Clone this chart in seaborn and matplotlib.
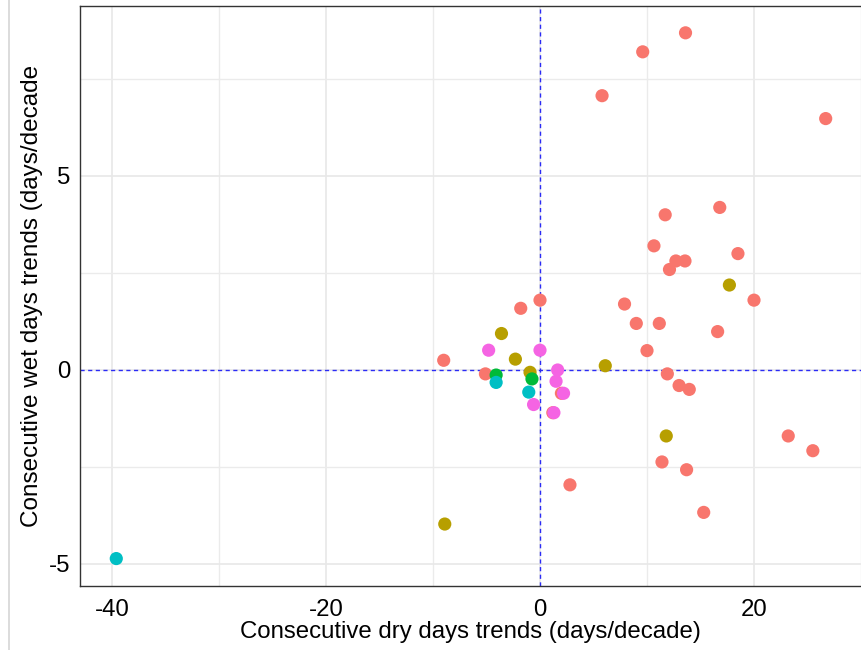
import numpy as np
import pandas as pd
import matplotlib
matplotlib.use("Agg")
import matplotlib.pyplot as plt
from matplotlib.lines import Line2D
from matplotlib.ticker import MultipleLocator, FuncFormatter
import seaborn as sns

# ---- data ----
red_x = [13.6, 9.6, 5.8, 26.7, 16.8, 11.7, 10.65, 18.5, 12.7, 13.55, 12.1, 20.0,
         7.9, 9.0, 11.15, 16.6, 10.0, 11.9, 13.0, 13.95, 11.4, 13.7, 15.3, 23.2,
         25.5, 2.8, 0.0, -1.8, -9.0, -5.1, 2.0, 1.2]
red_y = [8.69, 8.20, 7.07, 6.48, 4.19, 4.0, 3.2, 3.0, 2.81, 2.81, 2.59, 1.80,
         1.70, 1.20, 1.20, 0.99, 0.50, -0.10, -0.40, -0.50, -2.37, -2.57, -3.67, -1.70,
         -2.08, -2.96, 1.80, 1.59, 0.25, -0.10, -0.60, -1.10]
olive_x = [17.7, 6.1, 11.8, -8.9, -3.6, -2.3, -0.93]
olive_y = [2.19, 0.11, -1.70, -3.97, 0.94, 0.28, -0.06]
green_x = [-4.1, -0.75]
green_y = [-0.13, -0.23]
cyan_x = [-4.1, -1.05, -39.6]
cyan_y = [-0.32, -0.57, -4.86]
pink_x = [-4.8, 0.0, 1.65, 1.5, 2.2, -0.6, 1.3]
pink_y = [0.51, 0.51, 0.0, -0.29, -0.60, -0.89, -1.10]

groups = ["Group 1", "Group 2", "Group 3", "Group 4", "Group 5"]
colors = ["#F8766D", "#B79F00", "#00BA38", "#00BFC4", "#F564E3"]

xs = [red_x, olive_x, green_x, cyan_x, pink_x]
ys = [red_y, olive_y, green_y, cyan_y, pink_y]
df = pd.concat([pd.DataFrame({"cdd": x, "cwd": y, "group": g})
                for x, y, g in zip(xs, ys, groups)], ignore_index=True)

x_label = "Consecutive dry days trends (days/decade)"
y_label = "Consecutive wet days trends (days/decade"

# ---- figure ----
sns.set_style("white")
plt.rcParams["font.family"] = ["Liberation Sans", "DejaVu Sans"]

W, H = 861, 650
fig = plt.figure(figsize=(W / 100, H / 100), dpi=100)
ax_left, ax_right, ax_top, ax_bottom = 80, 900, 6, 586
aw, ah = ax_right - ax_left, ax_bottom - ax_top
ax = fig.add_axes([ax_left / W, (H - ax_bottom) / H, aw / W, ah / H])

# scale: x=0 at px 540, 10.7 px/unit; y=0 at px 370, 38.8 px/unit
ax.set_xlim((ax_left - 540) / 10.7, (ax_right - 540) / 10.7)
ax.set_ylim((370 - ax_bottom) / 38.8, (370 - ax_top) / 38.8)

ax.xaxis.set_major_locator(MultipleLocator(20))
ax.xaxis.set_minor_locator(MultipleLocator(10))
ax.yaxis.set_major_locator(MultipleLocator(5))
ax.yaxis.set_minor_locator(MultipleLocator(2.5))
ax.grid(True, which="major", color="#E8E8E8", linewidth=1.2)
ax.grid(True, which="minor", color="#EBEBEB", linewidth=1.0)
ax.set_axisbelow(True)

ax.axhline(0, color="#2B2BF5", linewidth=1.0, linestyle=(0, (3, 2.5)), zorder=1.5)
ax.axvline(0, color="#2B2BF5", linewidth=1.0, linestyle=(0, (3, 2.5)), zorder=1.5)

sns.scatterplot(data=df, x="cdd", y="cwd", hue="group", hue_order=groups,
                palette=dict(zip(groups, colors)), s=90, linewidth=0,
                alpha=1, legend=False, ax=ax, zorder=3)

for side in ["left", "bottom", "top"]:
    ax.spines[side].set_color("#333333")
    ax.spines[side].set_linewidth(1.0)
ax.spines["right"].set_visible(False)

ax.tick_params(axis="both", which="major", labelsize=17.3, length=4,
               width=0.9, color="#333333", labelcolor="black")
ax.tick_params(axis="x", which="major", pad=5)
ax.tick_params(axis="y", which="major", pad=3)
ax.tick_params(axis="both", which="minor", length=0)
ax.xaxis.set_major_formatter(FuncFormatter(lambda v, p: f"{v:.0f}"))
ax.yaxis.set_major_formatter(FuncFormatter(lambda v, p: f"{v:.0f}"))

ax.set_xlabel(x_label, fontsize=17.3, color="black")
ax.set_ylabel(y_label, fontsize=17.5, color="black")
ax.xaxis.set_label_coords((470 - ax_left) / aw, -(621 - ax_bottom) / ah)
ax.yaxis.set_label_coords(-(ax_left - 43) / aw, (ax_bottom - 296) / ah)

# faint vertical line at far left of the screenshot
fig.add_artist(Line2D([9 / W, 9 / W], [0, 1], color="#D6D6D6", linewidth=1.2))

fig.savefig("out.png", dpi=100)
